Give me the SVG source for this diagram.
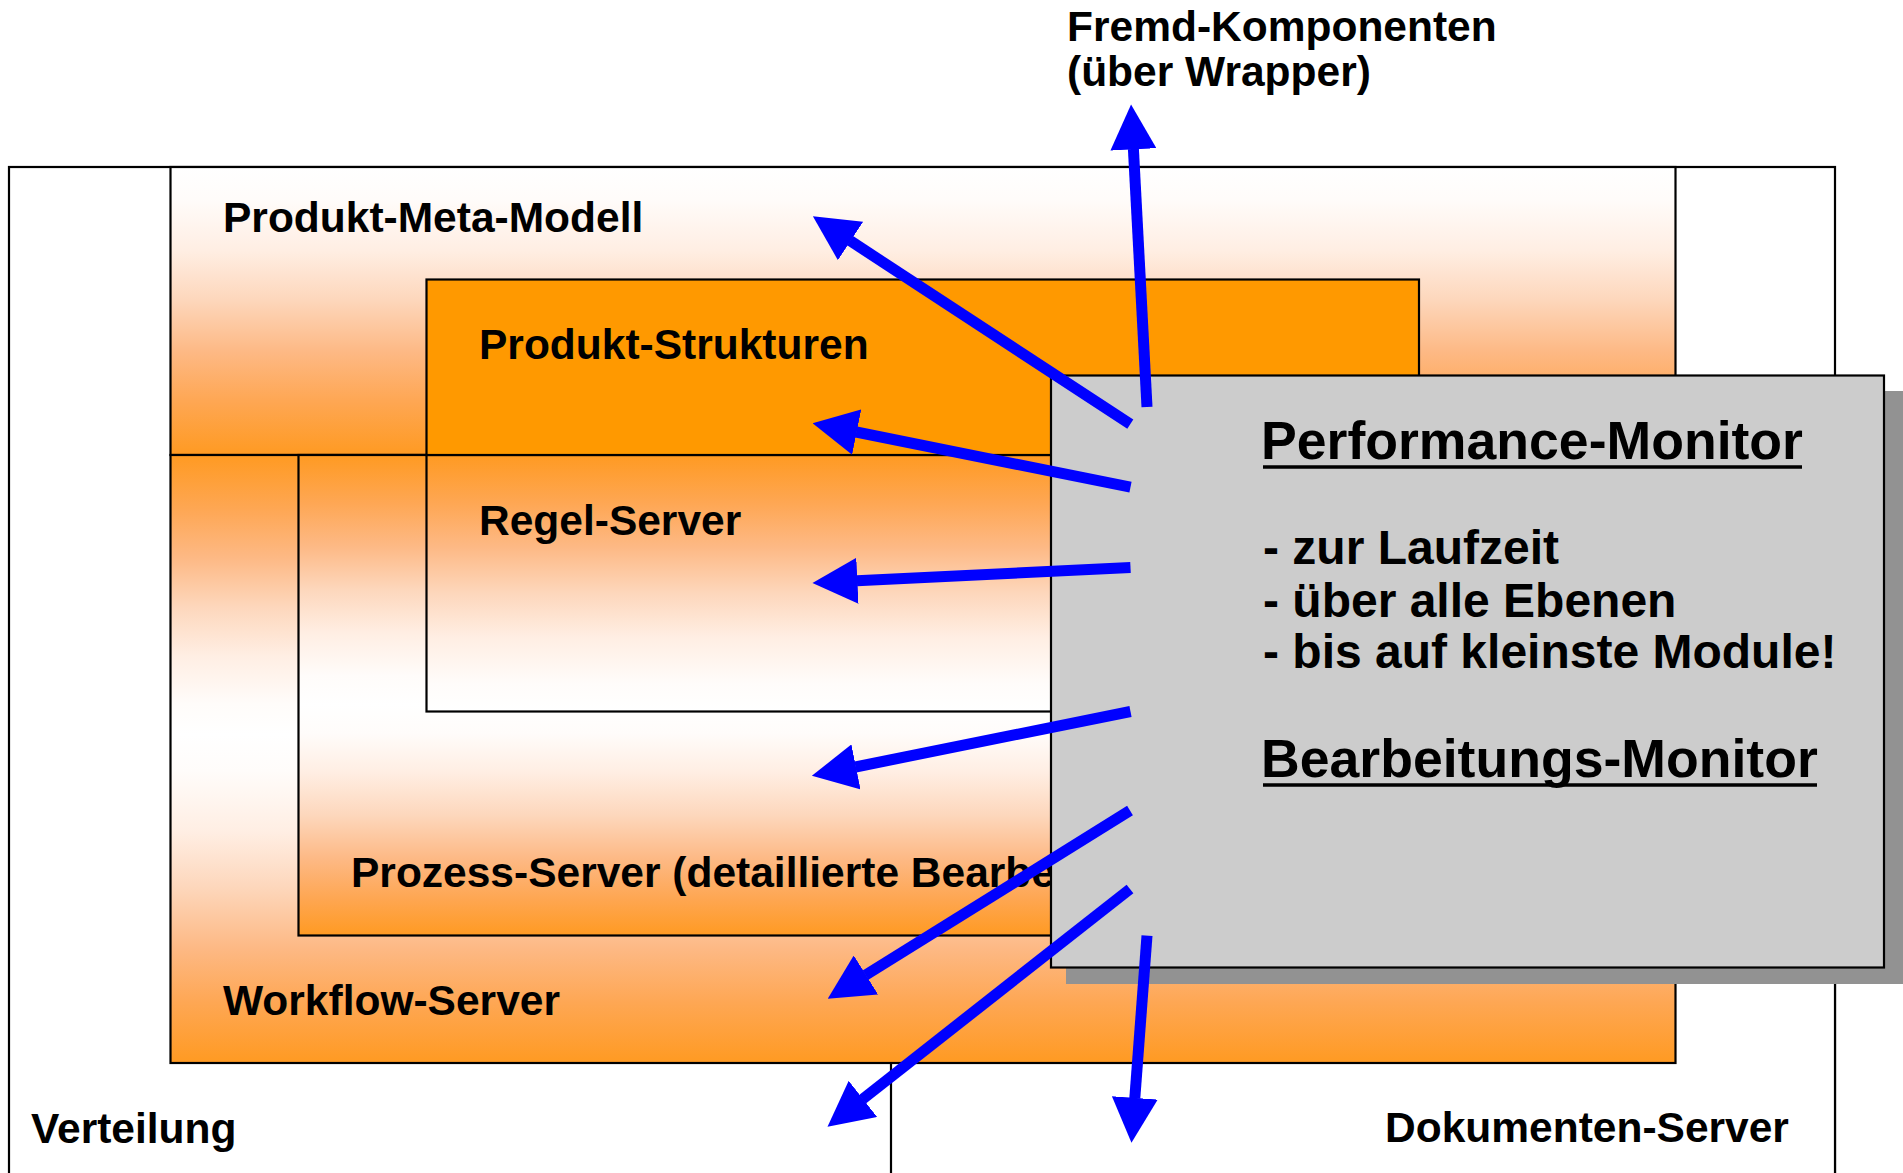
<svg xmlns="http://www.w3.org/2000/svg" width="1903" height="1173" viewBox="0 0 1903 1173">
<style>
.box{stroke:#000;stroke-width:2.2}
.lbl{font-family:"Liberation Sans",Arial,sans-serif;font-weight:bold;font-size:42.5px;fill:#000}
.mt{font-size:53.6px}
.mb{font-size:48px}
.ul{stroke:#000;stroke-width:3.7}
.arrow{stroke:#0000FF;stroke-width:11;fill:none;stroke-linecap:butt;marker-end:url(#ah)}
</style>
<defs>
<marker id="ah" viewBox="0 0 45 46" markerUnits="userSpaceOnUse" markerWidth="45" markerHeight="46" refX="0.5" refY="23" orient="auto">
<path d="M0,0 L45,23 L0,46 Z" fill="#0000FF"/>
</marker>
<linearGradient id="gMeta" x1="0" y1="0" x2="0" y2="1">
<stop offset="0" stop-color="#FFFFFF"/>
<stop offset="0.11" stop-color="#FFFCFA"/>
<stop offset="0.29" stop-color="#FFEEE3"/>
<stop offset="0.46" stop-color="#FDD7BC"/>
<stop offset="0.64" stop-color="#FDB985"/>
<stop offset="0.81" stop-color="#FEA754"/>
<stop offset="1" stop-color="#FF9A22"/>
</linearGradient>
<linearGradient id="gFade" x1="0" y1="0" x2="0" y2="1">
<stop offset="0" stop-color="#FF9A22"/>
<stop offset="0.19" stop-color="#FEA754"/>
<stop offset="0.36" stop-color="#FDB985"/>
<stop offset="0.54" stop-color="#FDD7BC"/>
<stop offset="0.71" stop-color="#FFEEE3"/>
<stop offset="0.89" stop-color="#FFFCFA"/>
<stop offset="1" stop-color="#FFFFFF"/>
</linearGradient>
<linearGradient id="gAxP" x1="0" y1="0" x2="0" y2="1">
<stop offset="0" stop-color="#FF9A22"/>
<stop offset="0.1" stop-color="#FEA754"/>
<stop offset="0.19" stop-color="#FDB985"/>
<stop offset="0.28" stop-color="#FDD7BC"/>
<stop offset="0.37" stop-color="#FFEEE3"/>
<stop offset="0.46" stop-color="#FFFCFA"/>
<stop offset="0.52" stop-color="#FFFFFF"/>
<stop offset="0.58" stop-color="#FFFCFA"/>
<stop offset="0.66" stop-color="#FFEEE3"/>
<stop offset="0.75" stop-color="#FDD7BC"/>
<stop offset="0.84" stop-color="#FDB985"/>
<stop offset="0.92" stop-color="#FEA754"/>
<stop offset="1" stop-color="#FF9A22"/>
</linearGradient>
<linearGradient id="gAxW" x1="0" y1="0" x2="0" y2="1">
<stop offset="0" stop-color="#FF9A22"/>
<stop offset="0.09" stop-color="#FEA754"/>
<stop offset="0.17" stop-color="#FDB985"/>
<stop offset="0.25" stop-color="#FDD7BC"/>
<stop offset="0.33" stop-color="#FFEEE3"/>
<stop offset="0.41" stop-color="#FFFCFA"/>
<stop offset="0.46" stop-color="#FFFFFF"/>
<stop offset="0.52" stop-color="#FFFCFA"/>
<stop offset="0.62" stop-color="#FFEEE3"/>
<stop offset="0.71" stop-color="#FDD7BC"/>
<stop offset="0.81" stop-color="#FDB985"/>
<stop offset="0.9" stop-color="#FEA754"/>
<stop offset="1" stop-color="#FF9A22"/>
</linearGradient>
</defs>
<rect width="1903" height="1173" fill="#FFFFFF"/>
<g id="node-verteilung">
<rect class="box" x="9" y="167" width="1826" height="1030" fill="#FFFFFF" stroke-width="2.6"/>
<text class="lbl" x="31" y="1143">Verteilung</text>
</g>
<g id="node-dokumenten">
<rect class="box" x="891" y="900" width="944" height="320" fill="#FFFFFF"/>
<text class="lbl" x="1385" y="1142">Dokumenten-Server</text>
</g>
<g id="node-meta">
<rect class="box" x="170.5" y="167" width="1505" height="288" fill="url(#gMeta)" stroke-width="2.6"/>
<text class="lbl" x="223" y="232">Produkt-Meta-Modell</text>
</g>
<g id="node-workflow">
<rect class="box" x="170.5" y="455" width="1505" height="608" fill="url(#gAxW)"/>
<text class="lbl" x="223" y="1015">Workflow-Server</text>
</g>
<g id="node-prozess">
<rect class="box" x="298.5" y="455" width="1250" height="480.5" fill="url(#gAxP)"/>
<text class="lbl" x="351" y="887">Prozess-Server (detaillierte Bearbe</text>
</g>
<g id="node-regel">
<rect class="box" x="426.5" y="455" width="992.5" height="256.5" fill="url(#gFade)"/>
<text class="lbl" x="479" y="535">Regel-Server</text>
</g>
<g id="node-strukturen">
<rect class="box" x="426.5" y="279.5" width="992.5" height="175.5" fill="#FF9900"/>
<text class="lbl" x="479" y="359">Produkt-Strukturen</text>
</g>
<g id="node-fremd">
<text class="lbl" x="1067" y="41">Fremd-Komponenten</text>
<text class="lbl" x="1067" y="86">(über Wrapper)</text>
</g>
<g id="node-monitor">
<rect x="1066" y="391" width="837" height="593" fill="#929292"/>
<rect class="box" x="1051" y="375.5" width="833" height="592" fill="#CCCCCC"/>
<text class="lbl mt" x="1261" y="459.3">Performance-Monitor</text>
<line class="ul" x1="1263" y1="467" x2="1802" y2="467"/>
<text class="lbl mb" x="1263" y="564.3">- zur Laufzeit</text>
<text class="lbl mb" x="1263" y="616.7">- über alle Ebenen</text>
<text class="lbl mb" x="1263" y="668.3">- bis auf kleinste Module!</text>
<text class="lbl mt" x="1261" y="777">Bearbeitungs-Monitor</text>
<line class="ul" x1="1263" y1="785" x2="1817" y2="785"/>
</g>
<g id="connectors">
<line class="arrow" x1="1147" y1="407" x2="1133.4" y2="148.9"/>
<line class="arrow" x1="1130.3" y1="424.2" x2="850.1" y2="240.7"/>
<line class="arrow" x1="1130.5" y1="487.2" x2="856.2" y2="432"/>
<line class="arrow" x1="1130.5" y1="567.5" x2="856.9" y2="580.8"/>
<line class="arrow" x1="1130.5" y1="711.5" x2="855.5" y2="767"/>
<line class="arrow" x1="1130" y1="810.5" x2="865.5" y2="975.2"/>
<line class="arrow" x1="1130" y1="889" x2="862.5" y2="1099.2"/>
<line class="arrow" x1="1147" y1="935.7" x2="1134.8" y2="1098.4"/>
</g>
</svg>
